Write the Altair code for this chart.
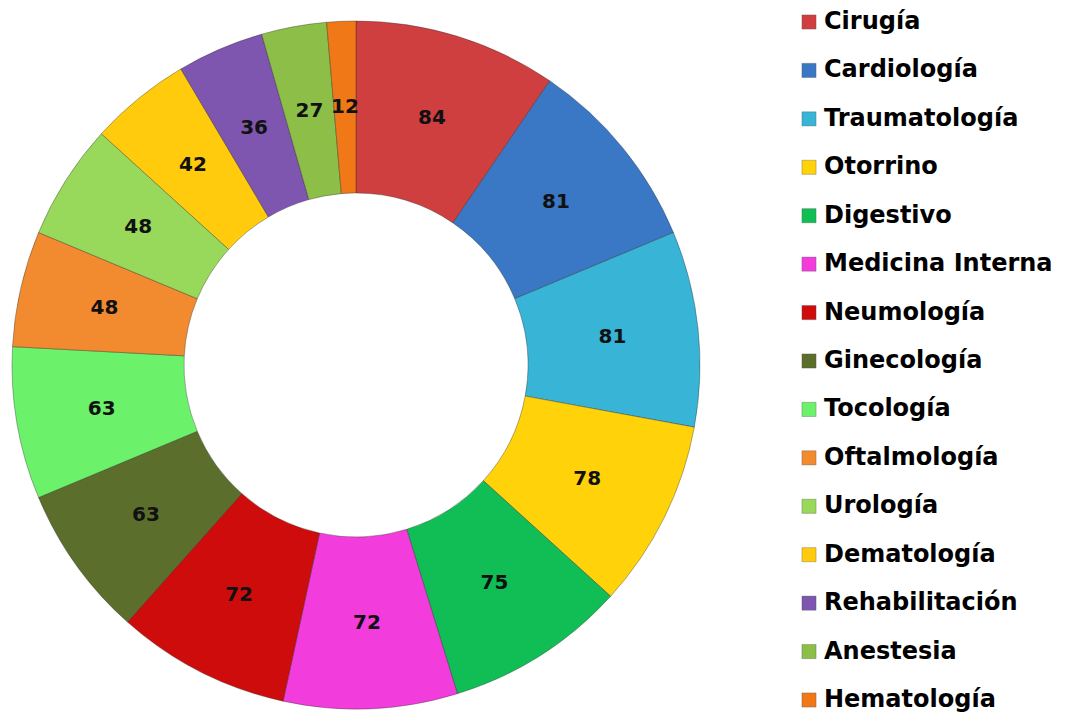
import altair as alt
import pandas as pd

categories = ["Cirugía", "Cardiología", "Traumatología", "Otorrino", "Digestivo",
              "Medicina Interna", "Neumología", "Ginecología", "Tocología", "Oftalmología",
              "Urología", "Dematología", "Rehabilitación", "Anestesia", "Hematología"]
values = [84, 81, 81, 78, 75, 72, 72, 63, 63, 48, 48, 42, 36, 27, 12]
colors = ["#D03F3F", "#3A78C6", "#38B4D6", "#FFD20A", "#10BE55",
          "#F23CDC", "#CE0C0C", "#5C6E2C", "#6CF26A", "#F28A30",
          "#98D85A", "#FFCB0C", "#7E56B0", "#8CBE48", "#F07816"]

df = pd.DataFrame({"cat": categories, "val": values, "idx": list(range(len(categories)))})

color_scale = alt.Scale(domain=categories, range=colors)

CX, CY = 348, 357

base = alt.Chart(df).encode(
    theta=alt.Theta("val:Q", stack=True),
    order=alt.Order("idx:Q", sort="ascending"),
)

arcs = base.mark_arc(innerRadius=172, outerRadius=344, stroke="#222222",
                     strokeOpacity=0.35, strokeWidth=1).encode(
    color=alt.Color("cat:N", scale=color_scale, legend=None),
    x=alt.value(CX), y=alt.value(CY),
)

labels = base.mark_text(radius=258, font="DejaVu Sans", fontWeight="bold",
                        fontSize=20, color="#111111").encode(
    text=alt.Text("val:Q"),
    x=alt.value(CX), y=alt.value(CY),
)

ypos = alt.Y("cat:N", scale=alt.Scale(domain=categories, range=[14, 692], padding=0),
             axis=None)

leg_sq = alt.Chart(df).mark_square(size=200, stroke="#444444", strokeOpacity=0.3,
                                   strokeWidth=1, opacity=1).encode(
    x=alt.value(801),
    y=ypos,
    color=alt.Color("cat:N", scale=color_scale, legend=None),
)

leg_txt = alt.Chart(df).mark_text(align="left", baseline="middle", font="DejaVu Sans",
                                  fontWeight="bold", fontSize=24, color="#000000").encode(
    x=alt.value(816),
    y=ypos,
    text="cat:N",
)

chart = alt.layer(arcs, labels, leg_sq, leg_txt).resolve_scale(
    theta="shared"
).properties(
    width=1068, height=706,
    autosize=alt.AutoSizeParams(type="none"),
    padding=0,
).configure_view(stroke=None)

chart.save("out.html", embed_options={"renderer": "svg", "actions": False})
